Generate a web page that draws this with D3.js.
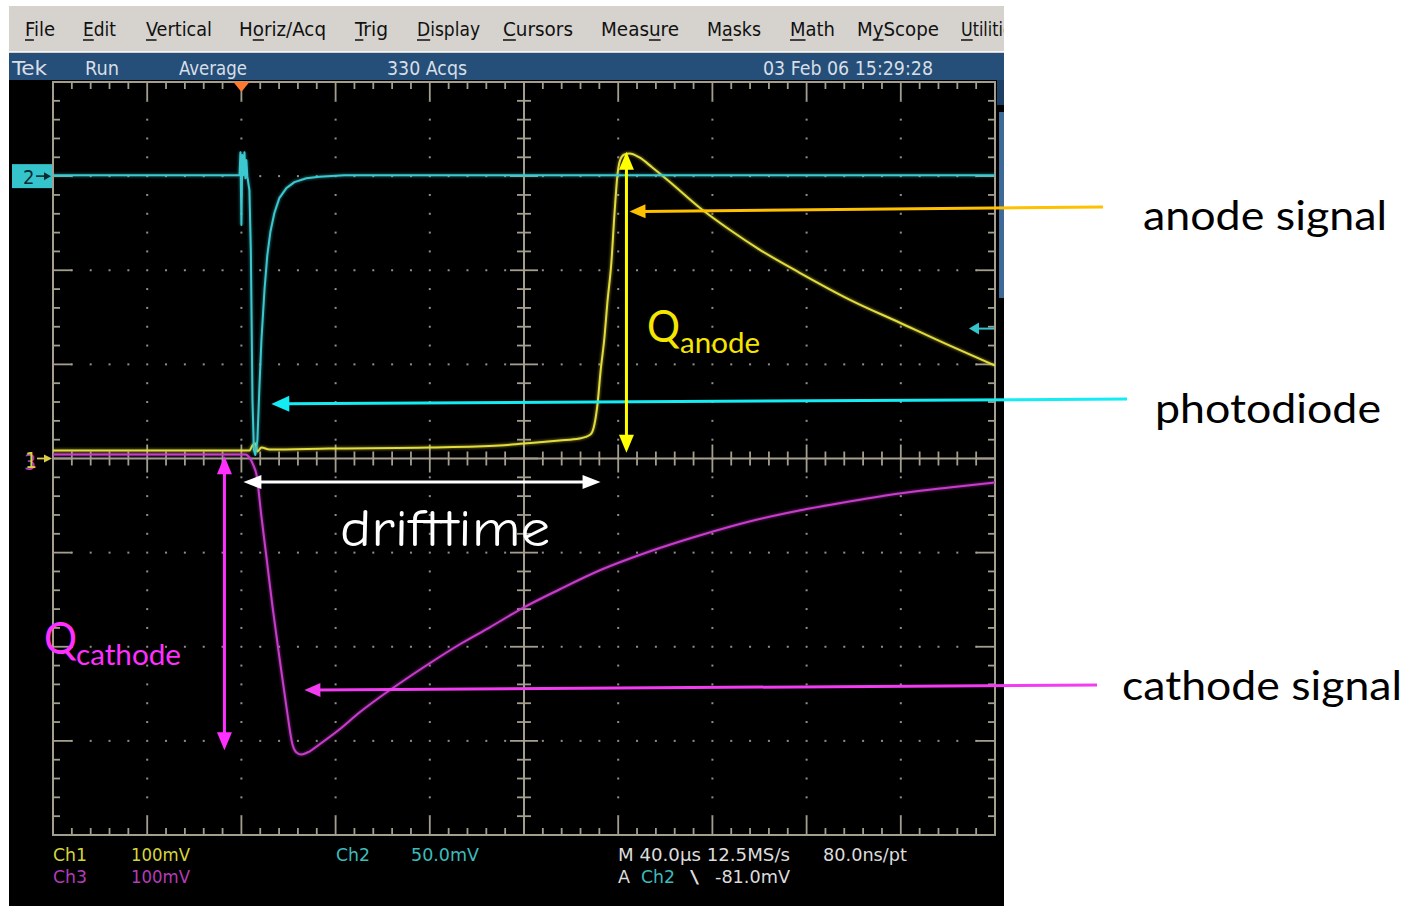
<!DOCTYPE html>
<html><head><meta charset="utf-8">
<script src="https://cdn.jsdelivr.net/npm/d3@7"></script>
<style>
html,body{margin:0;padding:0;background:#fff;}
svg{display:block;}
text{font-variant-ligatures:none;}
</style></head><body>
<svg id="c" width="1414" height="906"></svg>
<script>
// ---------------- DATA ----------------
// time in microseconds (trigger at 0), amplitude in mV
const ch1Time = [-80,-39.1,-0.8,3.4,4.7,5.9,6.8,8.5,11.9,37.4,79.8,109.6,119.8,135.0,143.5,148.2,149.9,151.2,152.5,154.2,155.4,157.1,158.4,159.7,160.9,162.6,164.8,169.0,174.5,181.7,194.5,207.2,220.0,236.9,258.2,279.4,300.6,320];
const ch1mV   = [8.5,8.5,8.5,8.5,13.8,15.9,7.4,11.7,9.6,10.6,11.7,13.8,15.9,19.1,21.2,25.5,36.1,57.4,92.4,129.6,165.7,208.2,259.2,301.7,317.6,323.0,324.0,319.8,309.2,294.3,266.7,243.3,222.0,197.6,168.9,144.5,120.1,98.8];

const ch2Time = [-80,-1.7,-0.8,-0.4,0,0.4,0.8,1.3,1.7,2.1,2.5,3.4,4.0,4.7,5.3,5.9,6.8,7.6,8.5,9.8,11.0,12.3,14.0,16.1,19.1,22.5,27.6,33.1,43.7,320];
const ch2mV   = [0.5,0.5,0.5,12.7,-26.0,11.2,0.5,12.7,-1.1,8.5,0,-7.4,-39.3,-118.9,-145.5,-148.1,-140.2,-113.6,-87.1,-60.5,-42.0,-29.7,-19.6,-11.7,-6.4,-3.2,-1.1,-0.3,0.5,0.5];

const ch3Time = [-80,-0.8,1.7,3.4,5.1,6.4,8.5,10.6,13.2,16.1,19.1,21.7,23.4,25.5,28.9,33.1,41.6,50.1,58.6,67.1,79.8,92.6,105.3,119.8,135.0,152.0,173.3,194.5,215.7,236.9,258.2,279.4,300.6,320];
const ch3mV   = [4.2,4.2,4.2,1.1,-7.4,-17.0,-61.6,-104.1,-157.2,-210.4,-263.5,-303.8,-312.3,-314.5,-311.3,-303.8,-287.9,-269.9,-253.9,-239.0,-217.8,-197.6,-179.6,-158.4,-139.2,-119.0,-98.8,-81.8,-66.9,-55.2,-45.7,-37.2,-30.8,-25.5];

// channel settings (mV/div, offset in divisions)
const chScale  = {ch1:100, ch2:50, ch3:100};
const chOffset = {ch1:0, ch2:3, ch3:0};
const timeDomain = [-80, 320];   // 40 us/div, 10 divisions
const trigLevel_mV = -81.0;      // Ch2 trigger level

// text labels
const menuLabels = ['File','Edit','Vertical','Horiz/Acq','Trig','Display','Cursors','Measure','Masks','Math','MyScope','Utilities'];
const menuUnderline = [0,0,0,1,0,0,0,4,1,0,1,0];
const statusLabels = ['Tek','Run','Average','330 Acqs','03 Feb 06 15:29:28'];

// annotation values (data coords)
const annAnodeTip = {t:164.8, mV:262.4};
const annPhotoTip = {t:12.7, mV:-121};
const annCathTip  = {t:26.75, mV:-246};
const qAnode = {t:163.5, from:6, to:326};
const qCath  = {t:-7.2, from:2.5, to:-310};
const drift  = {from:0.85, to:152.5, mV:-25};

// ---------------- LAYOUT ----------------
const svg = d3.select('#c');
const L = {left:53, right:995, top:82, bottom:835};
const x = d3.scaleLinear().domain(timeDomain).range([L.left, L.right]);
const yDiv = d3.scaleLinear().domain([-4,4]).range([L.bottom, L.top]);
const yCh = (ch, mv) => yDiv(mv/chScale[ch] + chOffset[ch]);

svg.append('rect').attr('width',1414).attr('height',906).attr('fill','#fff');
const defs = svg.append('defs');
defs.append('clipPath').attr('id','scr').append('rect').attr('x',9).attr('y',0).attr('width',995).attr('height',906);
defs.append('clipPath').attr('id','plot').append('rect').attr('x',L.left).attr('y',L.top).attr('width',L.right-L.left).attr('height',L.bottom-L.top);
defs.append('filter').attr('id','glow').append('feGaussianBlur').attr('stdDeviation',1.2);

const scr = svg.append('g').attr('clip-path','url(#scr)');
// menu bar
scr.append('rect').attr('x',9).attr('y',6).attr('width',995).attr('height',47).attr('fill','#d6d3ce');
scr.append('line').attr('x1',9).attr('x2',1004).attr('y1',51.5).attr('y2',51.5).attr('stroke','#f4f4f4').attr('stroke-width',1);
// status bar
scr.append('rect').attr('x',9).attr('y',53).attr('width',995).attr('height',27).attr('fill','#254f78');
// screen
scr.append('rect').attr('x',9).attr('y',80).attr('width',995).attr('height',826).attr('fill','#000');
scr.append('rect').attr('x',997).attr('y',80).attr('width',7).attr('height',25).attr('fill','#1d4066');
scr.append('rect').attr('x',999).attr('y',112).attr('width',5).attr('height',186).attr('fill','#3d6a96');

// menu texts
const menuX = [25,83,146,239,355,417,503,601,707,790,857,961];
const menuW = [30,33,66,87,33,63,70,78,54,45,82,60];
menuLabels.forEach((s,i)=>{
  const t = scr.append('text').attr('x',menuX[i]).attr('y',36).text(s)
    .attr('font-family','DejaVu Sans Condensed, DejaVu Sans').attr('font-stretch','condensed')
    .attr('font-size',19).attr('fill','#111')
    .attr('textLength',menuW[i]).attr('lengthAdjust','spacingAndGlyphs');
  try{
    const e = t.node().getExtentOfChar(menuUnderline[i]);
    scr.append('line').attr('x1',e.x).attr('x2',e.x+e.width).attr('y1',40).attr('y2',40)
      .attr('stroke','#111').attr('stroke-width',1.5);
  }catch(err){}
});

// status texts
const statX = [12,85,179,387,763], statW=[35,34,68,80,170];
statusLabels.forEach((s,i)=>{
  scr.append('text').attr('x',statX[i]).attr('y',75).text(s)
    .attr('font-family','DejaVu Sans Condensed, DejaVu Sans').attr('font-stretch','condensed')
    .attr('font-size',19).attr('fill','#d8dee6')
    .attr('textLength',statW[i]).attr('lengthAdjust','spacingAndGlyphs');
});

// ---------------- GRID ----------------
const grid = scr.append('g');
const gridCol = '#a39e8e', dotCol = '#8e8e8e';
const tMinor = d3.range(0,51).map(i=>({t:timeDomain[0]+i*8, major:i%5===0, i}));
const vMinor = d3.range(0,41).map(i=>({v:-4+i*0.2, major:i%5===0, i}));
const dots = [];
tMinor.filter(d=>d.major && d.i>0 && d.i<50 && d.i!==25).forEach(d=>{
  vMinor.forEach(v=>{ if(v.i>0 && v.i<40) dots.push([x(d.t), yDiv(v.v)]); });
});
vMinor.filter(v=>v.major && v.i>0 && v.i<40 && v.i!==20).forEach(v=>{
  tMinor.forEach(d=>{ if(d.i>0 && d.i<50 && !d.major) dots.push([x(d.t), yDiv(v.v)]); });
});
grid.selectAll('rect.dot').data(dots).join('rect').attr('class','dot')
  .attr('x',d=>d[0]-1).attr('y',d=>d[1]-1).attr('width',2).attr('height',2).attr('fill',dotCol);
grid.append('rect').attr('x',L.left).attr('y',L.top).attr('width',L.right-L.left).attr('height',L.bottom-L.top)
  .attr('fill','none').attr('stroke',gridCol).attr('stroke-width',2);
grid.append('line').attr('x1',x(120)).attr('x2',x(120)).attr('y1',L.top).attr('y2',L.bottom).attr('stroke',gridCol).attr('stroke-width',2);
grid.append('line').attr('x1',L.left).attr('x2',L.right).attr('y1',yDiv(0)).attr('y2',yDiv(0)).attr('stroke',gridCol).attr('stroke-width',2);
const tk = [];
tMinor.forEach(d=>{
  const X = x(d.t), len = d.major?18:7, c = d.major?14:7;
  tk.push([X,L.top,X,L.top+len]);
  tk.push([X,L.bottom,X,L.bottom-len]);
  tk.push([X,yDiv(0)-c,X,yDiv(0)+c]);
});
vMinor.forEach(v=>{
  const Y = yDiv(v.v), len = v.major?19:7, c = v.major?14:7;
  tk.push([L.left,Y,L.left+len,Y]);
  tk.push([L.right,Y,L.right-len,Y]);
  tk.push([x(120)-c,Y,x(120)+c,Y]);
});
grid.selectAll('line.tk').data(tk).join('line').attr('class','tk')
  .attr('x1',d=>d[0]).attr('y1',d=>d[1]).attr('x2',d=>d[2]).attr('y2',d=>d[3])
  .attr('stroke',gridCol).attr('stroke-width',1.8);

// ---------------- TRACES ----------------
const traces = scr.append('g').attr('clip-path','url(#plot)');
function trace(ch, ts, vs, color, curve){
  const pts = ts.map((t,i)=>[x(t), yCh(ch, vs[i])]);
  const line = d3.line().curve(curve);
  traces.append('path').attr('d',line(pts)).attr('fill','none').attr('stroke',color)
    .attr('stroke-width',4).attr('opacity',0.35).attr('filter','url(#glow)');
  traces.append('path').attr('d',line(pts)).attr('fill','none').attr('stroke',color)
    .attr('stroke-width',2).attr('stroke-linejoin','round');
}
trace('ch3', ch3Time, ch3mV, '#c83ccc', d3.curveMonotoneX);
trace('ch1', ch1Time, ch1mV, '#e2dc3c', d3.curveMonotoneX);
trace('ch2', ch2Time, ch2mV, '#3cc8cf', d3.curveLinear);

// trigger position marker
scr.append('path').attr('d',`M${x(0)-8},${L.top} L${x(0)+8},${L.top} L${x(0)},${L.top+10} Z`).attr('fill','#ff7a30');

// channel markers
const mf = 'DejaVu Sans Condensed, DejaVu Sans';
const y2 = yCh('ch2',0);
scr.append('rect').attr('x',12).attr('y',y2-12).attr('width',40).attr('height',24).attr('fill','#36c4cc');
scr.append('text').attr('x',23).attr('y',y2+8).text('2').attr('font-family',mf).attr('font-size',20).attr('fill','#0b2b30');
scr.append('line').attr('x1',36).attr('x2',46).attr('y1',y2).attr('y2',y2).attr('stroke','#0b2b30').attr('stroke-width',1.6);
scr.append('path').attr('d',`M44,${y2-4} L51,${y2} L44,${y2+4}Z`).attr('fill','#0b2b30');
const y1 = yCh('ch1',0);
scr.append('text').attr('x',24).attr('y',y1+11).text('3').attr('font-family',mf).attr('font-size',21).attr('fill','#b03cb0');
scr.append('text').attr('x',25).attr('y',y1+9).text('1').attr('font-family',mf).attr('font-size',21).attr('fill','#d8d048');
scr.append('line').attr('x1',37).attr('x2',46).attr('y1',y1).attr('y2',y1).attr('stroke','#d8d048').attr('stroke-width',1.8);
scr.append('path').attr('d',`M44,${y1-4} L52,${y1} L44,${y1+4}Z`).attr('fill','#d8d048');
const yT = yCh('ch2', trigLevel_mV);
scr.append('line').attr('x1',976).attr('x2',994).attr('y1',yT).attr('y2',yT).attr('stroke','#36c4cc').attr('stroke-width',2);
scr.append('path').attr('d',`M969,${yT} L979,${yT-6} L979,${yT+6}Z`).attr('fill','#36c4cc');

// bottom readouts
function rt(s,X,Y,w,c){ scr.append('text').attr('x',X).attr('y',Y).text(s).attr('font-family',mf).attr('font-stretch','condensed')
  .attr('font-size',18).attr('fill',c).attr('textLength',w).attr('lengthAdjust','spacingAndGlyphs'); }
rt('Ch1',53,861,34,'#d6d63c'); rt('100mV',131,861,59,'#d6d63c');
rt('Ch3',53,883,34,'#b43cb8'); rt('100mV',131,883,59,'#b43cb8');
rt('Ch2',336,861,34,'#3cbcbc'); rt('50.0mV',411,861,68,'#3cbcbc');
rt('M 40.0\u00b5s 12.5MS/s',618,861,172,'#dcdcdc'); rt('80.0ns/pt',823,861,84,'#dcdcdc');
rt('A',618,883,12,'#dcdcdc'); rt('Ch2',641,883,34,'#3cbcbc'); rt('\\',690,883,9,'#dcdcdc'); rt('-81.0mV',715,883,75,'#dcdcdc');

// ---------------- ANNOTATIONS ----------------
const ann = svg.append('g');
function arrow(x1,y1,x2,y2,color,w,hl,hw,both){
  const dx=x2-x1, dy=y2-y1, len=Math.hypot(dx,dy), ux=dx/len, uy=dy/len, px=-uy, py=ux;
  const sx = both? x1+ux*hl*0.8 : x1, sy = both? y1+uy*hl*0.8 : y1;
  ann.append('line').attr('x1',sx).attr('y1',sy).attr('x2',x2-ux*hl*0.8).attr('y2',y2-uy*hl*0.8)
    .attr('stroke',color).attr('stroke-width',w);
  const head=(tx,ty,vx,vy)=>{
    const bx=tx-vx*hl, by=ty-vy*hl;
    ann.append('path').attr('d',`M${tx},${ty} L${bx+px*hw/2},${by+py*hw/2} L${bx-px*hw/2},${by-py*hw/2}Z`).attr('fill',color);
  };
  head(x2,y2,ux,uy);
  if(both) head(x1,y1,-ux,-uy);
}
arrow(1103,207, x(annAnodeTip.t), yCh('ch1',annAnodeTip.mV), '#ffc000', 3, 16, 14, false);
arrow(1127,399, x(annPhotoTip.t), yCh('ch2',annPhotoTip.mV), '#14ecf4', 3, 18, 16, false);
arrow(1097,685, x(annCathTip.t), yCh('ch3',annCathTip.mV), '#f23cf2', 3, 16, 14, false);
arrow(x(qAnode.t), yCh('ch1',qAnode.from), x(qAnode.t), yCh('ch1',qAnode.to), '#ffff00', 3, 18, 15, true);
arrow(x(qCath.t), yCh('ch3',qCath.from), x(qCath.t), yCh('ch3',qCath.to), '#ff30ff', 3, 18, 15, true);
arrow(x(drift.from), yCh('ch3',drift.mV), x(drift.to), yCh('ch3',drift.mV), '#ffffff', 3, 18, 14, true);

function lbl(s,X,Y,size,col,w,fam){
  return ann.append('text').attr('x',X).attr('y',Y).text(s).attr('font-family',fam||'Lato, Carlito, "Noto Sans", sans-serif')
    .attr('font-size',size).attr('fill',col).attr('textLength',w).attr('lengthAdjust','spacingAndGlyphs');
}
lbl('anode signal',1143,230,41,'#000',244);
lbl('photodiode',1155,423,41,'#000',226);
lbl('cathode signal',1122,700,41,'#000',280);
lbl('Q',647,342,44,'#f5e600',33);
lbl('anode',680,353,28,'#f5e600',80);
lbl('Q',44,654,44,'#ff30ff',33);
lbl('cathode',76,665,28,'#ff30ff',105);
lbl('drifttime',340,546,52,'#ffffff',210,'"Comic Sans MS","Comic Neue","DejaVu Sans",sans-serif');
</script>
</body></html>
